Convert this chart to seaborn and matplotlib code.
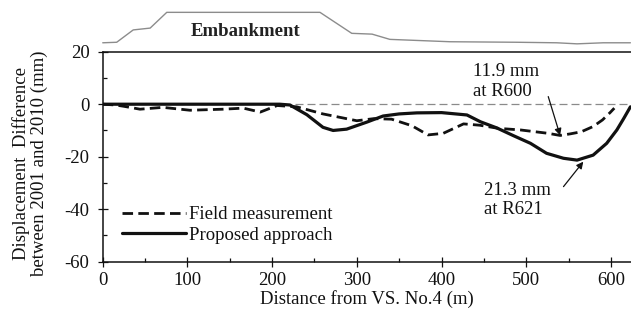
import matplotlib
matplotlib.use("Agg")
import matplotlib.pyplot as plt
import seaborn as sns
import pandas as pd
from matplotlib.ticker import MultipleLocator

# Field measurement: displacement difference (mm) along the alignment (m)
field_x = [0, 15, 25, 44, 71, 103, 142, 166, 186, 206, 229, 260, 300, 320,
           341, 365, 384, 402, 426, 445, 467, 493, 526, 540, 552, 565, 579,
           590, 599, 604]
field_y = [0, -0.3, -0.8, -1.9, -1.2, -2.3, -1.9, -1.5, -3.0, -0.5, -1.0,
           -3.7, -6.3, -5.5, -5.7, -8.2, -11.7, -11.1, -7.5, -8.0, -9.2,
           -9.8, -11.1, -11.9, -11.3, -10.5, -8.5, -6.0, -3.2, -1.5]

# Proposed approach
prop_x = [0, 100, 209, 221, 241, 260, 272, 288, 312, 331, 350, 371, 400,
          430, 446, 465, 485, 505, 524, 544, 560, 579, 595, 607, 615, 623]
prop_y = [0, 0, 0, -0.3, -4.0, -8.8, -10.0, -9.5, -6.8, -4.5, -3.7, -3.3,
          -3.2, -4.1, -6.7, -9.0, -12.0, -14.9, -18.7, -20.6, -21.3, -19.4,
          -14.9, -9.8, -5.5, -1.0]

# Embankment outline sketched above the plot area
emb_x = [0, 16.5, 36, 56, 75.6, 256.5, 294, 318, 339, 410, 489, 536, 560,
         591, 623]
emb_y = [23.4, 23.6, 28.3, 29.0, 35.0, 35.0, 27.0, 26.7, 24.7, 23.8, 23.6,
         23.4, 23.0, 23.4, 23.4]

x_ticks = [0, 100, 200, 300, 400, 500, 600]
y_ticks = [-60, -40, -20, 0, 20]

field_df = pd.DataFrame({"x": field_x, "y": field_y})
prop_df = pd.DataFrame({"x": prop_x, "y": prop_y})
emb_df = pd.DataFrame({"x": emb_x, "y": emb_y})

sns.set_theme(style="ticks")
plt.rcParams["font.family"] = ["Liberation Serif", "DejaVu Serif"]
plt.rcParams["axes.unicode_minus"] = False

FS = 13.5
INK = "#111111"
fig = plt.figure(figsize=(6.31, 3.20), dpi=100)
ax = fig.add_axes([0.1628, 0.1822, 1.0 - 0.1628, 0.6562])

ax.axhline(0, color="#8a8a8a", lw=0.9, ls=(0, (6.4, 3.2)), zorder=1)

sns.lineplot(data=field_df, x="x", y="y", ax=ax, color=INK, lw=2.0,
             linestyle=(0, (3.8, 1.9)), label="Field measurement", zorder=3)
sns.lineplot(data=prop_df, x="x", y="y", ax=ax, color=INK, lw=2.3,
             label="Proposed approach", zorder=4)
sns.lineplot(data=emb_df, x="x", y="y", ax=ax, color="#8c8c8c", lw=1.0,
             clip_on=False, legend=False, zorder=2)

ax.text(169, 27.6, "Embankment", ha="center", va="center", fontsize=FS,
        fontweight="bold", color="#222222")

ax.set_xlim(0, 623.7)
ax.set_ylim(-60, 20)
ax.set_xticks(x_ticks)
ax.set_yticks(y_ticks)
ax.xaxis.set_minor_locator(MultipleLocator(50))
ax.yaxis.set_minor_locator(MultipleLocator(10))

ax.tick_params(which="major", direction="inout", length=7.2, width=0.9,
               color=INK, labelsize=FS, labelcolor=INK)
ax.tick_params(axis="x", which="major", pad=3.5)
ax.tick_params(axis="y", which="major", pad=6)
ax.tick_params(which="minor", direction="in", length=3, width=0.9, color=INK)

for side in ["left", "bottom", "top"]:
    ax.spines[side].set_linewidth(1.1)
    ax.spines[side].set_color(INK)
ax.spines["right"].set_visible(False)

ax.set_xlabel("Distance from VS. No.4 (m)", fontsize=FS, color=INK,
              labelpad=1)
ax.set_ylabel("Displacement  Difference\nbetween 2001 and 2010 (mm)",
              fontsize=FS, color=INK, va="center", linespacing=1.05)
ax.yaxis.set_label_coords(-0.138, 0.47)

arrow_kw = dict(arrowstyle="-|>", color=INK, lw=0.9, mutation_scale=10,
                shrinkA=0, shrinkB=0)

# Peak of the field measurement
ax.text(437.6, 8.6, "11.9 mm\nat R600", ha="left", va="center", fontsize=FS,
        color=INK)
ax.annotate("", xy=(540, -11.9), xytext=(526, 2.9), arrowprops=arrow_kw)

# Peak of the proposed approach
ax.text(450, -36.5, "21.3 mm\nat R621", ha="left", va="center", fontsize=FS,
        color=INK)
ax.annotate("", xy=(567.4, -21.9), xytext=(544, -31.4), arrowprops=arrow_kw)

leg = ax.legend(loc="center left", bbox_to_anchor=(0.0365, 0.175),
                frameon=False, fontsize=FS, handlelength=3.4,
                handletextpad=0.15, borderpad=0, borderaxespad=0,
                labelspacing=0.2)
for t in leg.get_texts():
    t.set_color(INK)

fig.savefig("out.png", dpi=100)
